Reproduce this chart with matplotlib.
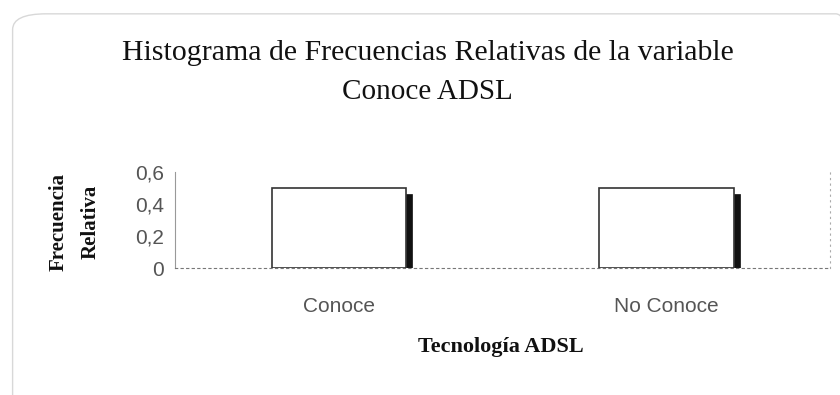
import matplotlib.pyplot as plt
import matplotlib.patches as patches

categories = ["Conoce", "No Conoce"]
rel_freq = [0.5, 0.5]
yticks = [0, 0.2, 0.4, 0.6]
ytick_labels = ["0", "0,2", "0,4", "0,6"]

serif = ["Liberation Serif", "DejaVu Serif"]
sans = ["Liberation Sans", "DejaVu Sans"]

fig = plt.figure(figsize=(8.4, 3.95), dpi=100)

# rounded chart-area border, faint like the scan
fig.patches.append(patches.FancyBboxPatch(
    (0.015, -0.05), 1.02, 1.015, boxstyle="round,pad=0,rounding_size=0.04",
    transform=fig.transFigure, fill=False, edgecolor="#d8d8d8", linewidth=1.0))

ax = fig.add_axes([0.2083, 0.3215, 0.78, 0.243])
x = range(len(categories))
width = 0.41
depth = 0.02  # 3-D side face width (axis units)

ax.bar(x, rel_freq, width=width, color="white", edgecolor="#333333", linewidth=1.2, zorder=3)
# side face of the 3-D bars
ax.bar([i + width / 2 + depth / 2 for i in x], [v - 0.035 for v in rel_freq],
       width=depth, color="#111111", edgecolor="#111111", linewidth=0.5, zorder=2)

ax.set_xlim(-0.5, 1.5)
ax.set_ylim(0, 0.6)
ax.set_yticks(yticks)
ax.set_yticklabels(ytick_labels, fontsize=15, color="#555555", family=sans)
ax.set_xticks(list(x))
ax.set_xticklabels(categories, fontsize=15, color="#555555", family=sans)
ax.tick_params(length=0, pad=8)
ax.tick_params(axis="x", pad=21)

ax.spines["top"].set_visible(False)
ax.spines["left"].set_color("#999999")
ax.spines["left"].set_linewidth(0.8)
ax.spines["bottom"].set_linestyle((0, (2, 3)))
ax.spines["bottom"].set_color("#777777")
ax.spines["right"].set_linestyle((0, (1, 4)))
ax.spines["right"].set_color("#aaaaaa")

fig.text(0.509, 0.866, "Histograma de Frecuencias Relativas de la variable",
         ha="center", va="center", fontsize=21.5, family=serif, color="#111111")
fig.text(0.509, 0.768, "Conoce ADSL", ha="center", va="center",
         fontsize=21, family=serif, color="#111111")

fig.text(0.07, 0.438, "Frecuencia", rotation=90, ha="center", va="center",
         fontsize=15, family=serif, fontweight="bold", color="#111111")
fig.text(0.108, 0.438, "Relativa", rotation=90, ha="center", va="center",
         fontsize=15, family=serif, fontweight="bold", color="#111111")

fig.text(0.596, 0.121, "Tecnología ADSL", ha="center", va="center",
         fontsize=16, family=serif, fontweight="bold", color="#111111")

fig.savefig("out.png", dpi=100)
